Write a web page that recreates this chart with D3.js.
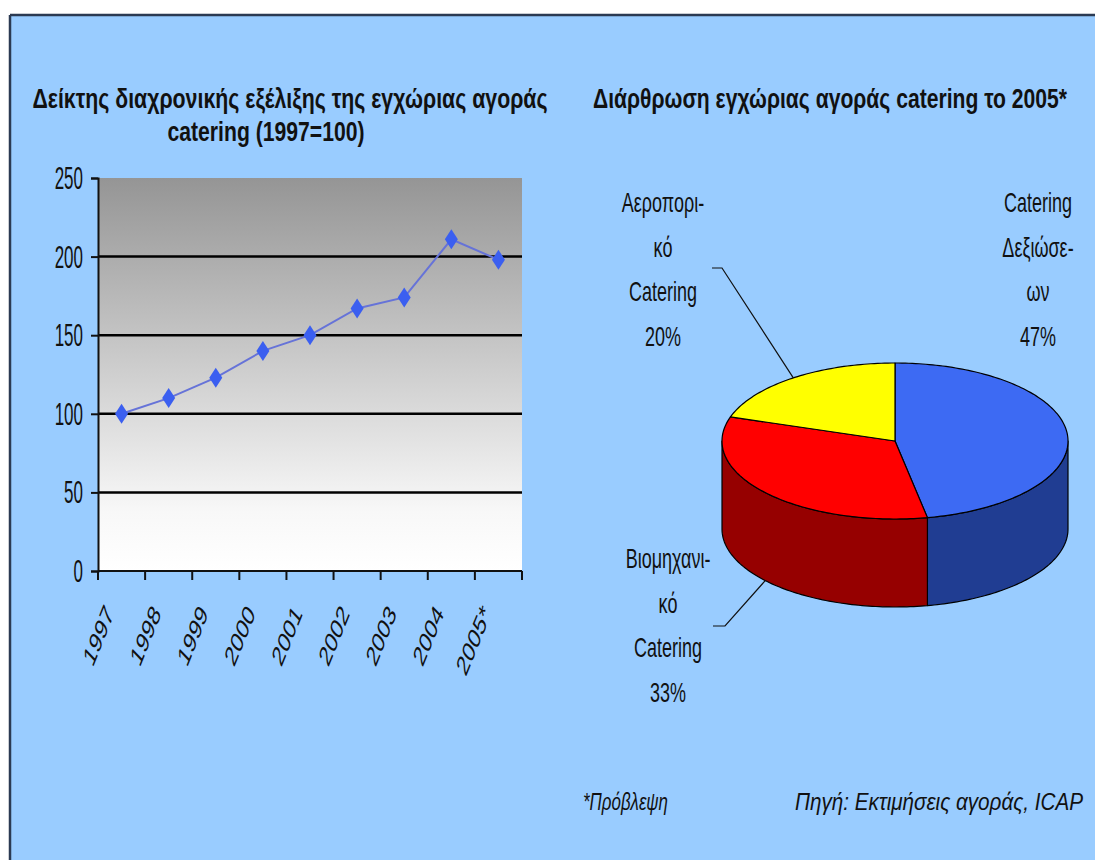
<!DOCTYPE html>
<html>
<head>
<meta charset="utf-8">
<script src="https://cdn.jsdelivr.net/npm/d3@7/dist/d3.min.js"></script>
<style>
  html, body { margin: 0; padding: 0; background: #fff; }
  svg { display: block; }
  text { font-family: "Liberation Sans", Arial, sans-serif; fill: #111; }
</style>
</head>
<body>
<div id="chart"></div>
<script>
// line chart data (index, 1997=100)
const years = ['1997', '1998', '1999', '2000', '2001', '2002', '2003', '2004', '2005*'];
const indexValues = [100, 110, 123, 140, 150, 167, 174, 211, 198];
const yTicks = [0, 50, 100, 150, 200, 250];
const gridValues = [50, 100, 150, 200];

// pie data (structure 2005)
const pieNames = ['Catering Δεξιώσεων', 'Βιομηχανικό Catering', 'Αεροπορικό Catering'];
const pieShares = [47, 33, 20];
const pieLabelLines = [
    ['Catering', 'Δεξιώσε-', 'ων', '47%'],
    ['Βιομηχανι-', 'κό', 'Catering', '33%'],
    ['Αεροπορι-', 'κό', 'Catering', '20%']
];

const titleLeft = ['Δείκτης διαχρονικής εξέλιξης της εγχώριας αγοράς', 'catering (1997=100)'];
const titleRight = 'Διάρθρωση εγχώριας αγοράς catering το 2005*';
const noteText = '*Πρόβλεψη';
const sourceText = 'Πηγή: Εκτιμήσεις αγοράς, ICAP';

const W = 1095, H = 860;

const svg = d3.select('#chart').append('svg')
    .attr('width', W)
    .attr('height', H);

// frame
svg.append('rect').attr('width', W).attr('height', H).attr('fill', '#fff');
svg.append('rect').attr('x', 10).attr('y', 15).attr('width', W - 10).attr('height', H - 15).attr('fill', '#99ccff');
svg.append('line').attr('x1', 10).attr('y1', 15).attr('x2', W).attr('y2', 15).attr('stroke', '#2b3a52').attr('stroke-width', 2.5);
svg.append('line').attr('x1', 10).attr('y1', 15).attr('x2', 10).attr('y2', H).attr('stroke', '#2b3a52').attr('stroke-width', 2.5);

// text drawn stretched, like the source picture
function stretched(parent, x, y, str, o) {
    let g = parent.append('g')
        .attr('transform', 'translate(' + x + ',' + y + ') scale(' + (o.sx || 1) + ',' + (o.sy || 1) + ')' + (o.rot ? ' rotate(' + o.rot + ')' : ''));
    let t = g.append('text')
        .attr('text-anchor', o.anchor || 'middle')
        .style('font-size', o.size + 'px')
        .style('font-weight', o.bold ? 'bold' : 'normal')
        .style('font-style', o.italic ? 'italic' : 'normal')
        .text(str);
    if (o.len) t.attr('textLength', o.len).attr('lengthAdjust', 'spacingAndGlyphs');
    return t;
}

// titles
stretched(svg, 290, 108, titleLeft[0], { size: 20, bold: true, sy: 1.4, len: 515 });
stretched(svg, 266, 141, titleLeft[1], { size: 20, bold: true, sy: 1.4, len: 197 });
stretched(svg, 830, 108, titleRight, { size: 20, bold: true, sy: 1.4, len: 474 });

// ---------- line chart ----------
const plot = { left: 98, right: 522, top: 178, bottom: 571 };

const x = d3.scaleBand().domain(years).range([plot.left, plot.right]);
const y = d3.scaleLinear().domain([0, 250]).range([plot.bottom, plot.top]);

const defs = svg.append('defs');
const grad = defs.append('linearGradient').attr('id', 'plotbg')
    .attr('x1', 0).attr('y1', 0).attr('x2', 0).attr('y2', 1);
grad.append('stop').attr('offset', '0%').attr('stop-color', '#959595');
grad.append('stop').attr('offset', '85%').attr('stop-color', '#f8f8f8');
grad.append('stop').attr('offset', '100%').attr('stop-color', '#ffffff');

svg.append('rect')
    .attr('x', plot.left).attr('y', plot.top)
    .attr('width', plot.right - plot.left).attr('height', plot.bottom - plot.top)
    .attr('fill', 'url(#plotbg)');

svg.append('g').selectAll('line')
    .data(gridValues)
    .enter().append('line')
    .attr('x1', plot.left).attr('x2', plot.right)
    .attr('y1', d => y(d)).attr('y2', d => y(d))
    .attr('stroke', '#000').attr('stroke-width', 2.5);

// y axis
const yAxis = d3.axisLeft(y).tickValues(yTicks).tickSize(7).tickFormat('');
const gy = svg.append('g').attr('transform', 'translate(' + plot.left + ',0)').call(yAxis);
gy.select('.domain').attr('stroke', '#111').attr('stroke-width', 2);
gy.selectAll('.tick line').attr('stroke', '#111').attr('stroke-width', 2);
yTicks.forEach(v => {
    stretched(svg, 83, y(v) + 11, String(v), { size: 20, sx: 0.85, sy: 1.6, anchor: 'end' });
});

// x axis: ticks on the band edges
const edges = years.map(d => x(d)).concat([plot.right]);
svg.append('line')
    .attr('x1', plot.left).attr('x2', plot.right)
    .attr('y1', plot.bottom).attr('y2', plot.bottom)
    .attr('stroke', '#111').attr('stroke-width', 2);
svg.append('g').selectAll('line')
    .data(edges)
    .enter().append('line')
    .attr('x1', d => d).attr('x2', d => d)
    .attr('y1', plot.bottom).attr('y2', plot.bottom + 9)
    .attr('stroke', '#111').attr('stroke-width', 2);

years.forEach(d => {
    stretched(svg, x(d) + x.bandwidth() / 2 - 7, plot.bottom + 43, d, { size: 20, sx: 0.9, sy: 1.45, rot: -57, anchor: 'end' });
});

// series
const cx = d => x(d) + x.bandwidth() / 2;
const line = d3.line()
    .x((d, i) => cx(years[i]))
    .y(d => y(d));

svg.append('path')
    .attr('d', line(indexValues))
    .attr('fill', 'none')
    .attr('stroke', '#6673d8')
    .attr('stroke-width', 2);

svg.append('g').selectAll('path')
    .data(indexValues)
    .enter().append('path')
    .attr('d', 'M0,-10L6.5,0L0,10L-6.5,0Z')
    .attr('transform', (d, i) => 'translate(' + cx(years[i]) + ',' + y(d) + ')')
    .attr('fill', '#3b5ff0');

// ---------- 3D pie ----------
const pc = { x: 895, y: 441, rx: 173, ry: 78, depth: 88 };
const topColors = ['#3d6af3', '#ff0000', '#ffff00'];
const sideColors = ['#203d92', '#960000', '#999900'];

const arcs = d3.pie().sort(null).value(d => d)(pieShares);

function ept(a, dy) {
    return [pc.x + pc.rx * Math.sin(a), pc.y + (dy || 0) - pc.ry * Math.cos(a)];
}
function sampleAngles(a0, a1) {
    let n = Math.max(2, Math.ceil((a1 - a0) / 0.02));
    return d3.range(n + 1).map(k => a0 + (a1 - a0) * k / n);
}
const pathGen = d3.line();

const pieG = svg.append('g');

// side walls on the front half
arcs.forEach((a, i) => {
    let s = Math.max(a.startAngle, Math.PI / 2);
    let e = Math.min(a.endAngle, Math.PI * 1.5);
    if (e <= s) return;
    let angs = sampleAngles(s, e);
    let pts = angs.map(t => ept(t)).concat(angs.slice().reverse().map(t => ept(t, pc.depth)));
    pieG.append('path')
        .attr('d', pathGen(pts) + 'Z')
        .attr('fill', sideColors[i])
        .attr('stroke', '#000')
        .attr('stroke-width', 1.2)
        .attr('stroke-linejoin', 'round');
});

// top faces
arcs.forEach((a, i) => {
    let pts = [[pc.x, pc.y]].concat(sampleAngles(a.startAngle, a.endAngle).map(t => ept(t)));
    pieG.append('path')
        .attr('d', pathGen(pts) + 'Z')
        .attr('fill', topColors[i])
        .attr('stroke', '#000')
        .attr('stroke-width', 1.2)
        .attr('stroke-linejoin', 'round');
});

// labels
const labelSpots = [
    { x: 1038, y: 212 },
    { x: 668, y: 568 },
    { x: 663, y: 212 }
];
pieLabelLines.forEach((lines, i) => {
    lines.forEach((s, k) => {
        stretched(svg, labelSpots[i].x, labelSpots[i].y + k * 44.5, s, { size: 18, sy: 1.5 });
    });
});

// leader lines: red one ends on the bottom rim, yellow one on the top rim
const leaders = [
    { i: 1, from: [713, 626], bend: [725, 626], dy: pc.depth },
    { i: 2, from: [712, 268], bend: [722, 268], dy: 0 }
];
leaders.forEach(l => {
    let a = arcs[l.i];
    let end = ept((a.startAngle + a.endAngle) / 2, l.dy);
    svg.append('path')
        .attr('d', pathGen([l.from, l.bend, end]))
        .attr('fill', 'none')
        .attr('stroke', '#111')
        .attr('stroke-width', 1.2);
});

// footer
stretched(svg, 583, 810, noteText, { size: 17, italic: true, sy: 1.45, anchor: 'start', len: 85 });
stretched(svg, 1083, 810, sourceText, { size: 17, italic: true, sy: 1.45, anchor: 'end', len: 288 });
</script>
</body>
</html>
